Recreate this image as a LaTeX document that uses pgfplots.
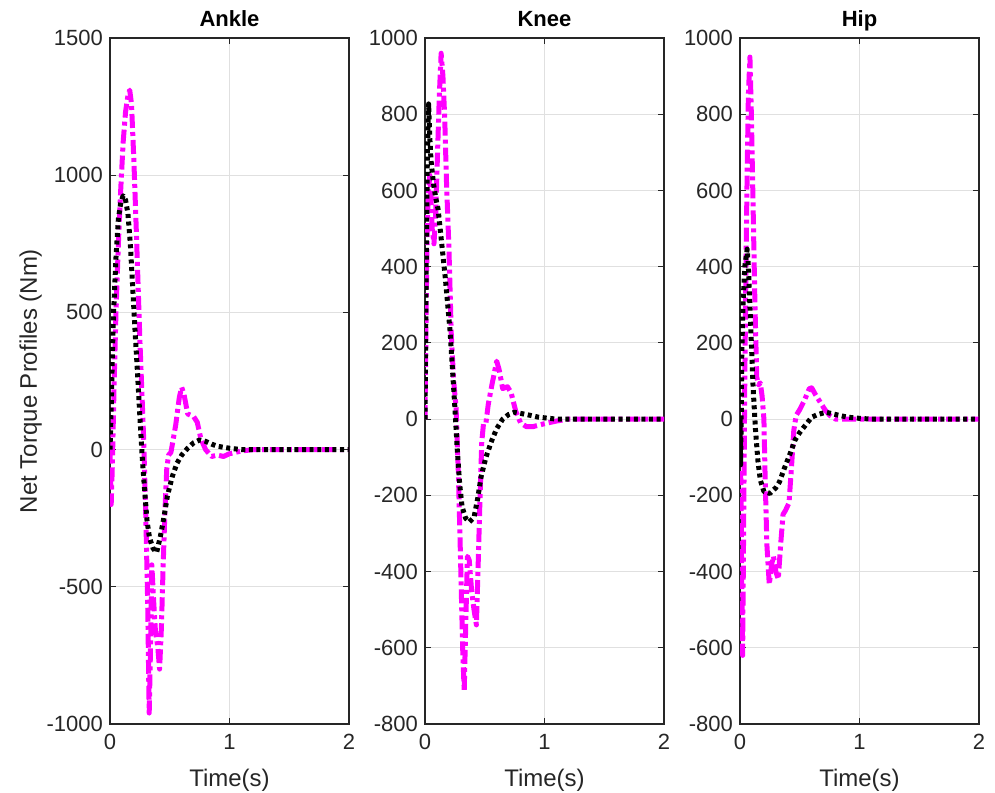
\documentclass[border=0pt]{standalone}
\usepackage{pgfplots}
\pgfplotsset{compat=1.18}
\usepackage{fontspec}
\setmainfont{Liberation Sans}
\definecolor{axc}{gray}{0.15}
\definecolor{grd}{gray}{0.88}
\definecolor{mag}{rgb}{1,0,1}
\pgfplotsset{
  mystyle/.style={
    scale only axis, width=119.5pt, height=343pt,
    anchor=south west,
    xmin=0, xmax=2, xtick={0,1,2},
    grid=major, major grid style={grd, line width=0.5pt},
    axis line style={axc, line width=0.6pt},
    tick style={axc, line width=0.6pt},
    tick align=inside, tick pos=both,
    major tick length=3pt,
    ticklabel style={font=\fontsize{11}{13}\selectfont, text=axc},
    xticklabel style={yshift=-1.5pt},
    /pgf/number format/assume math mode=true,
    scaled y ticks=false,
    yticklabel style={/pgf/number format/fixed, /pgf/number format/1000 sep={}},
    xlabel={Time(s)},
    xlabel style={font=\fontsize{12}{14}\selectfont, text=axc, yshift=-3pt},
    title style={font=\bfseries\fontsize{11}{13}\selectfont, yshift=-6pt, text height=0.72em, text depth=0.22em},
    clip=true,
  },
  magl/.style={mag, line width=2.5pt, dash pattern=on 7pt off 2pt on 2pt off 2pt, line join=round},
  blkl/.style={black, line width=2.5pt, dash pattern=on 2pt off 1.8pt, line join=round},
}
\begin{document}
\begin{tikzpicture}
\path[use as bounding box] (0,0) rectangle (497.5pt,396pt);
% Ankle
\begin{axis}[mystyle, at={(55pt,34pt)}, ymin=-1000, ymax=1500, ytick={-1000,-500,0,500,1000,1500},
  title={Ankle}, ylabel={Net Torque Profiles (Nm)},
  ylabel style={font=\fontsize{12}{14}\selectfont, text=axc, yshift=-4.5pt}]
\addplot[magl] coordinates {
(0,0) (0.01,-200) (0.02,-50) (0.035,250) (0.05,500) (0.07,750) (0.09,950) (0.11,1120)
(0.13,1230) (0.15,1290) (0.165,1310) (0.18,1260) (0.2,1050) (0.22,800) (0.25,400)
(0.28,60) (0.3,-250) (0.315,-550) (0.328,-960) (0.34,-700) (0.35,-420) (0.365,-550)
(0.38,-660) (0.4,-720) (0.415,-800) (0.43,-650) (0.445,-420) (0.46,-220) (0.475,-70)
(0.49,-20) (0.51,-10) (0.53,40) (0.55,90) (0.58,190) (0.6,227) (0.62,200) (0.65,130)
(0.7,120) (0.73,100) (0.76,40) (0.8,0) (0.85,-25) (0.9,-20) (0.95,-25) (1.0,-15)
(1.1,-5) (1.2,0) (1.5,0) (2.0,0)};
\addplot[blkl] coordinates {
(0,0) (0.01,150) (0.02,350) (0.03,500) (0.05,700) (0.07,840) (0.09,900) (0.11,925)
(0.13,910) (0.15,860) (0.17,750) (0.19,590) (0.21,430) (0.23,280) (0.25,120) (0.27,-30)
(0.29,-150) (0.31,-260) (0.33,-320) (0.36,-360) (0.39,-375) (0.42,-320) (0.45,-250)
(0.48,-170) (0.52,-100) (0.56,-50) (0.6,-20) (0.65,5) (0.7,25) (0.75,35) (0.8,30)
(0.85,20) (0.9,12) (1.0,5) (1.1,0) (1.5,0) (2.0,0)};
\end{axis}
% Knee
\begin{axis}[mystyle, at={(212.5pt,34pt)}, ymin=-800, ymax=1000, ytick={-800,-600,...,1000},
  title={Knee}]
\addplot[magl] coordinates {
(0,0) (0.01,300) (0.02,520) (0.03,600) (0.04,640) (0.05,580) (0.06,500) (0.075,460)
(0.09,540) (0.105,700) (0.12,850) (0.135,960) (0.15,900) (0.165,790) (0.18,620) (0.2,450)
(0.22,220) (0.24,100) (0.26,30) (0.28,-150) (0.3,-400) (0.315,-600) (0.328,-715)
(0.34,-550) (0.355,-360) (0.37,-370) (0.39,-450) (0.41,-500) (0.43,-540) (0.445,-380)
(0.46,-210) (0.475,-60) (0.49,-10) (0.51,-10) (0.53,40) (0.56,90) (0.6,152) (0.62,130)
(0.65,80) (0.69,85) (0.72,70) (0.76,20) (0.8,-10) (0.85,-20) (0.9,-20) (1.0,-12)
(1.1,-5) (1.2,0) (1.5,0) (2,0)};
\addplot[blkl] coordinates {
(0,0) (0.005,200) (0.01,400) (0.02,700) (0.03,827) (0.04,740) (0.05,680) (0.07,620)
(0.09,580) (0.11,550) (0.13,490) (0.15,430) (0.17,370) (0.19,300) (0.21,230) (0.23,130)
(0.25,30) (0.27,-80) (0.29,-170) (0.31,-230) (0.34,-260) (0.37,-270) (0.41,-258)
(0.44,-210) (0.47,-150) (0.51,-100) (0.56,-55) (0.6,-25) (0.65,0) (0.7,12) (0.75,18)
(0.8,15) (0.85,12) (0.95,5) (1.1,0) (1.5,0) (2,0)};
\end{axis}
% Hip
\begin{axis}[mystyle, at={(370pt,34pt)}, ymin=-800, ymax=1000, ytick={-800,-600,...,1000},
  title={Hip}]
\addplot[magl] coordinates {
(0,0) (0.008,-200) (0.015,-450) (0.022,-620) (0.03,-300) (0.04,100) (0.05,400) (0.06,650)
(0.07,850) (0.083,950) (0.095,800) (0.11,550) (0.125,300) (0.14,110) (0.155,90) (0.17,95)
(0.185,60) (0.2,0) (0.21,-150) (0.225,-330) (0.245,-434) (0.265,-380) (0.28,-360)
(0.3,-400) (0.32,-420) (0.34,-330) (0.36,-250) (0.38,-240) (0.41,-220) (0.43,-130)
(0.45,-30) (0.47,10) (0.5,25) (0.54,50) (0.58,80) (0.6,82) (0.63,65) (0.67,45) (0.71,25)
(0.75,10) (0.8,0) (0.9,0) (1.5,0) (2,0)};
\addplot[blkl] coordinates {
(0,0) (0.005,-120) (0.01,0) (0.015,180) (0.025,300) (0.04,400) (0.06,446) (0.07,400)
(0.08,320) (0.095,200) (0.11,80) (0.13,-30) (0.15,-110) (0.17,-160) (0.2,-190) (0.25,-195)
(0.3,-180) (0.33,-165) (0.37,-130) (0.42,-90) (0.46,-55) (0.5,-35) (0.55,-15) (0.6,5)
(0.65,12) (0.72,18) (0.8,12) (0.9,5) (1.0,2) (1.1,0) (1.5,0) (2,0)};
\end{axis}
\end{tikzpicture}
\end{document}
